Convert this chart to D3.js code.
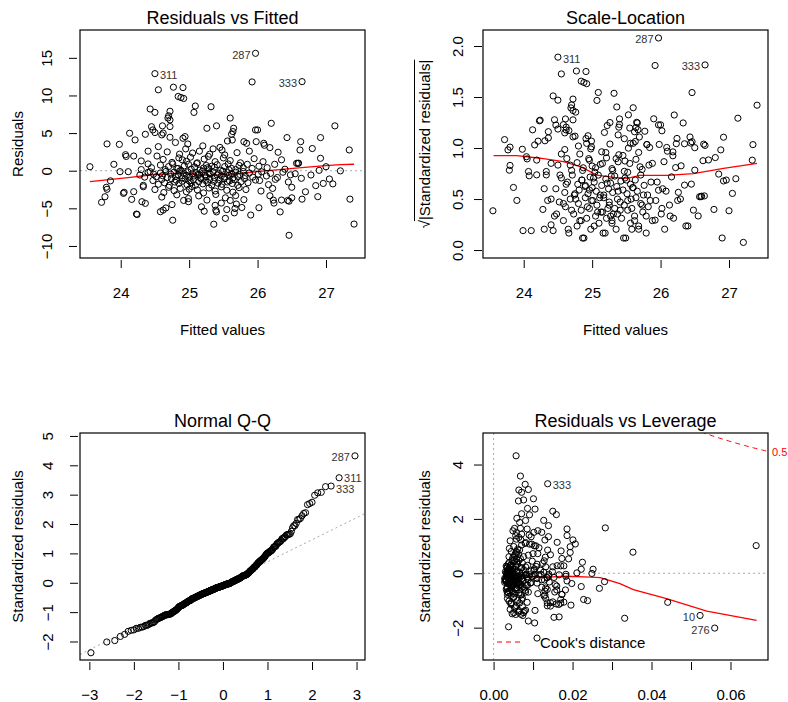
<!DOCTYPE html>
<html>
<head>
<meta charset="utf-8">
<script src="https://cdn.jsdelivr.net/npm/d3@7"></script>
<style>
  body { margin: 0; background: #fff; }
  text { font-family: "Liberation Sans", Arial, Helvetica, sans-serif; }
</style>
</head>
<body>
<div id="chart"></div>
<script>
// ---- model output (n = 330 cases) ----
// first five entries are the labelled cases
const caseIds = ["287", "311", "333", "276", "10"];

const fitted = [
  25.97, 24.50, 26.65, 27.41, 26.33,
  25.92, 24.77, 24.91, 24.55, 24.84, 24.88, 24.92, 25.09, 25.32, 24.43,
  24.50, 24.72, 25.07, 24.70, 24.69, 24.72, 25.60, 26.20,
  24.61, 24.72, 24.45, 24.47, 24.50, 25.26, 25.40, 25.65, 25.64, 25.97, 26.00, 27.13, 24.62,
  24.60, 24.36, 24.13, 24.21, 24.91, 24.94, 25.62, 26.43, 26.92, 24.72, 25.63,
  23.80, 25.84, 26.18, 26.10, 26.63, 24.98, 25.56, 25.80, 25.98, 26.09, 24.55, 25.20, 25.45, 24.80, 23.98,
  27.34, 26.62, 24.07, 26.80, 24.95, 25.15, 25.30, 25.48, 25.70, 25.52, 24.68, 24.86, 25.05, 25.88, 26.30, 24.40, 25.35,
  26.92, 24.53, 24.19, 24.08, 24.30, 24.62, 24.75, 24.85, 24.96, 25.02, 25.12, 25.22, 25.38, 25.50, 25.60, 25.75, 25.95, 26.08, 26.35, 26.60, 25.28, 24.90,
  23.55, 27.00, 23.90, 25.92, 26.57, 26.59, 24.30, 24.40, 26.90,
  24.45, 24.58, 24.65, 24.70, 24.76, 24.82, 24.88, 24.93, 24.99, 25.03,
  25.08, 25.11, 25.16, 25.21, 25.25, 25.29, 25.33, 25.37, 25.41, 25.46,
  25.52, 25.57, 25.62, 25.68, 25.73, 25.79, 25.85, 26.02, 26.14, 26.25,
  26.40, 25.27, 25.58, 24.84,
  23.99, 24.11, 24.40, 24.43, 24.28, 27.21, 26.78, 24.35, 24.48, 25.15,
  24.52, 24.58, 24.61, 24.66, 24.68, 24.73, 24.78, 24.80, 24.84, 24.86,
  24.90, 24.92, 24.96, 24.98, 25.01, 25.05, 25.07, 25.10, 25.13, 25.17,
  25.19, 25.23, 25.25, 25.29, 25.31, 25.35, 25.37, 25.41, 25.43, 25.47,
  25.49, 25.52, 25.56, 25.58, 25.62, 25.64, 25.68, 25.71, 25.74, 25.79,
  25.82, 25.88, 25.93, 26.01, 26.06, 26.13, 26.19, 26.29, 26.37, 26.48,
  26.55,
  26.64, 25.97, 26.96, 27.05, 26.85, 27.10, 23.85, 24.33,
  24.47, 24.55, 24.60, 24.64, 24.71, 24.74, 24.79, 24.81, 24.85, 24.90,
  24.94, 24.97, 25.00, 25.03, 25.06, 25.09, 25.14, 25.17, 25.20, 25.24,
  25.27, 25.30, 25.33, 25.36, 25.42, 25.45, 25.48, 25.51, 25.56, 25.59,
  25.63, 25.66, 25.71, 25.76, 25.81, 25.86, 26.03, 26.16, 26.26, 26.45,
  24.05, 24.19, 24.33, 23.79, 23.80, 26.70, 26.50,
  24.50, 24.63, 24.70, 24.78, 24.87, 24.96, 25.04, 25.12, 25.21, 25.29,
  25.38, 25.47, 25.55, 25.64, 25.73, 25.83, 26.05, 26.22, 25.00,
  24.04, 23.77, 24.16, 26.23, 26.44, 26.65, 27.35, 26.18, 26.35, 26.88, 26.50,
  24.60, 24.82, 24.99, 25.14, 25.26, 25.39, 25.53, 25.68, 25.80, 24.92, 25.60,
  23.72, 24.31, 24.36, 24.99, 25.38, 26.02, 25.77, 25.69, 26.46, 24.66, 24.75, 25.18, 25.47, 26.24,
  24.24, 24.23, 25.22, 25.39, 25.40, 24.62, 25.55, 25.67, 24.58, 25.90, 25.66,
  26.46, 25.36, 24.76, 25.53
];

const resid = [
  15.6, 12.9, 11.84, -7.09, -5.47,
  11.80, 11.1, 11.05, 10.75, 9.87, 9.73, 9.6, 8.6, 8.5, 8.2,
  7.75, 7.9, 7.75, 7.3, 7.0, 6.75, 7.0, 6.3,
  5.96, 5.87, 5.85, 5.42, 5.07, 5.64, 5.96, 5.64, 5.2, 5.42, 5.42, 5.96, 5.0,
  4.76, 4.84, 4.98, 4.09, 4.31, 4.53, 4.84, 4.4, 4.4, 4.44, 4.08,
  3.56, 3.64, 3.07, 3.38, 3.86, 3.55, 3.95, 3.86, 3.86, 3.64, 3.2, 3.3, 3.1, 3.75, 3.5,
  2.76, 2.75, 2.13, 2.95, 2.9, 2.6, 2.2, 2.75, 2.4, 2.1, 2.5, 2.2, 2.35, 2.6, 2.45, 2.6, 2.9,
  1.65, 1.95, 1.95, 1.9, 1.3, 1.5, 1.1, 1.7, 1.25, 1.8, 1.05, 1.55, 1.2, 1.7, 1.35, 1.05, 1.6, 1.2, 1.45, 1.0, 1.9, 1.45,
  0.53, 0.53, 0.85, 0.31, 0.98, 0.98, 0.15, 0.9, 0.05,
  0.4, 0.75, 0.15, 0.55, 0.9, 0.3, 0.05, 0.65, 0.85, 0.2,
  0.5, 0.95, 0.1, 0.35, 0.7, 0.25, 0.6, 0.45, 0.8, 0.05,
  0.55, 0.9, 0.3, 0.15, 0.7, 0.4, 0.85, 0.6, 0.4, 0.85,
  0.2, 0.4, 0.15, 0.3,
  -0.13, -0.13, -0.22, -0.13, -0.57, -0.02, -0.57, -0.85, -0.45, -0.5,
  -0.8, -0.3, -0.65, -0.1, -0.9, -0.45, -0.2, -0.75, -0.55, -0.05,
  -0.95, -0.35, -0.6, -0.15, -0.85, -0.4, -0.7, -0.25, -0.5, -0.95,
  -0.1, -0.6, -0.8, -0.3, -0.45, -0.15, -0.9, -0.55, -0.35, -0.7,
  -0.05, -0.85, -0.25, -0.6, -0.4, -0.95, -0.2, -0.75, -0.5, -0.1,
  -0.65, -0.3, -0.85, -0.45, -0.15, -0.7, -0.35, -0.9, -0.2, -0.55,
  -0.4,
  -1.01, -1.24, -1.69, -1.1, -1.98, -1.75, -1.35, -1.95,
  -1.3, -1.8, -1.15, -1.6, -1.95, -1.05, -1.5, -1.25, -1.7, -1.4,
  -1.1, -1.85, -1.35, -1.6, -1.2, -1.95, -1.45, -1.05, -1.75, -1.3,
  -1.55, -1.15, -1.9, -1.4, -1.65, -1.25, -1.8, -1.1, -1.5, -1.35,
  -1.7, -1.2, -1.95, -1.45, -1.05, -1.6, -1.3, -1.85, -1.15, -1.5,
  -2.87, -2.79, -2.13, -2.2, -2.47, -2.8, -2.2,
  -2.5, -2.9, -2.2, -2.65, -2.35, -2.8, -2.1, -2.55, -2.95, -2.3,
  -2.7, -2.15, -2.6, -2.85, -2.25, -2.5, -2.7, -2.35, -2.45,
  -3.01, -3.46, -3.81, -3.91, -3.95, -3.78, -3.78, -3.33, -3.9, -3.45, -3.6,
  -3.5, -3.2, -3.7, -3.35, -3.9, -3.15, -3.6, -3.3, -3.85, -3.95, -3.95,
  -4.2, -4.12, -4.34, -4.12, -4.6, -4.92, -4.89, -4.43, -4.05, -4.95, -4.5, -4.8, -4.3, -4.3,
  -5.82, -5.76, -5.38, -5.24, -5.47, -5.23, -5.16, -5.02, -5.45, -5.89, -5.6,
  -8.58, -7.11, -6.58, -6.33
];

const leverage = [
  .0057, .0068, .0137, .0560, .0523,
  .0080, .0088, .0064, .0071, .0101, .0076, .0063, .0086, .0105, .0150,
  .0159, .0071, .0091, .0059, .0081, .0066, .0127, .0139,
  .0053, .0085, .0186, .0058, .0090, .0049, .0068, .0112, .0071, .0102, .0122, .0283, .0056,
  .0064, .0139, .0186, .0161, .0042, .0058, .0095, .0201, .0130, .0069, .0081,
  .0665, .0103, .0137, .0115, .0207, .0051, .0080, .0091, .0097, .0107, .0061, .0040, .0066, .0071, .0194,
  .0353, .0194, .0131, .0171, .0045, .0055, .0076, .0059, .0088, .0049, .0063, .0039, .0053, .0100, .0144, .0112, .0058,
  .0128, .0068, .0173, .0190, .0124, .0059, .0044, .0051, .0037, .0047, .0042, .0053, .0061, .0064, .0073, .0086, .0098, .0110, .0225, .0161, .0058, .0040,
  .0222, .0252, .0150, .0095, .0170, .0178, .0127, .0108, .0211,
  .0102, .0069, .0058, .0049, .0044, .0035, .0032, .0039, .0034, .0030,
  .0037, .0032, .0035, .0039, .0034, .0042, .0040, .0045, .0044, .0047,
  .0053, .0056, .0059, .0066, .0071, .0076, .0081, .0103, .0119, .0132,
  .0149, .0039, .0058, .0045,
  .0140, .0183, .0115, .0105, .0136, .0249, .0135, .0122, .0085, .0035,
  .0071, .0063, .0086, .0049, .0058, .0044, .0081, .0039, .0053, .0034,
  .0042, .0032, .0063, .0035, .0030, .0047, .0028, .0039, .0058, .0032,
  .0035, .0044, .0030, .0071, .0040, .0034, .0053, .0045, .0039, .0061,
  .0049, .0042, .0080, .0055, .0064, .0047, .0091, .0059, .0068, .0083,
  .0073, .0103, .0088, .0098, .0120, .0110, .0139, .0129, .0166, .0153,
  .0183,
  .0186, .0095, .0160, .0281, .0268, .0222, .0198, .0132,
  .0093, .0074, .0063, .0083, .0055, .0047, .0066, .0039, .0044, .0058,
  .0032, .0035, .0042, .0049, .0028, .0034, .0039, .0030, .0045, .0035,
  .0051, .0040, .0059, .0039, .0049, .0064, .0044, .0055, .0069, .0051,
  .0063, .0058, .0078, .0068, .0074, .0086, .0110, .0122, .0141, .0156,
  .0130, .0173, .0136, .0160, .0155, .0173, .0182,
  .0081, .0068, .0058, .0049, .0040, .0035, .0032, .0037, .0044, .0047,
  .0053, .0056, .0064, .0071, .0080, .0088, .0112, .0130, .0034,
  .0128, .0170, .0178, .0136, .0170, .0150, .0441, .0132, .0144, .0228, .0238,
  .0071, .0051, .0039, .0035, .0045, .0051, .0061, .0073, .0085, .0044, .0066,
  .0196, .0165, .0144, .0044, .0053, .0105, .0081, .0073, .0159, .0064, .0056, .0042, .0058, .0136,
  .0153, .0166, .0047, .0051, .0056, .0076, .0063, .0078, .0069, .0332, .0074,
  .0110, .0038, .0104, .0088
];

const sigma = 3.62;   // residual standard error
const nCoef = 3;      // number of coefficients (for Cook's contours)

// red smoother lines
const rvfSmoothX = [23.55, 23.90, 24.14, 24.43, 24.77, 24.97, 25.11, 25.36, 25.46, 25.75, 25.94, 26.24, 26.60, 26.95, 27.21, 27.41];
const rvfSmoothY = [-1.46, -1.12, -0.88, -0.57, -0.35, -0.35, -0.53, -0.66, -0.48, -0.35, -0.17, 0.09, 0.38, 0.64, 0.80, 0.86];
const slSmoothX = [23.56, 23.90, 24.24, 24.58, 24.83, 25.07, 25.31, 25.51, 25.70, 26.09, 26.48, 26.92, 27.41];
const slSmoothY = [0.925, 0.925, 0.90, 0.866, 0.817, 0.735, 0.712, 0.703, 0.732, 0.732, 0.75, 0.80, 0.85];
const rvlSmoothH = [0.003, 0.0059, 0.0093, 0.0135, 0.0186, 0.0245, 0.027, 0.032, 0.0354, 0.0438, 0.054, 0.0666];
const rvlSmoothY = [-0.32, -0.04, -0.11, -0.14, -0.11, -0.14, -0.16, -0.38, -0.6, -0.93, -1.39, -1.73];

// tick values
const fittedTicks = [24, 25, 26, 27];
const rvfYTicks = [-10, -5, 0, 5, 10, 15];
const slYTicks = [0, 0.5, 1, 1.5, 2];
const qqXTicks = [-3, -2, -1, 0, 1, 2, 3];
const qqYTicks = [-2, -1, 0, 1, 2, 3, 4, 5];
const levTicks = [0, 0.01, 0.02, 0.03, 0.04, 0.05, 0.06];
const rvlYTicks = [-2, 0, 2, 4];

// ---- derived quantities ----
const n = fitted.length;
const stdRes = resid.map((r, i) => r / (sigma * Math.sqrt(1 - leverage[i])));
const sqrtAbs = stdRes.map(s => Math.sqrt(Math.abs(s)));
const cooks = stdRes.map((s, i) => s * s * leverage[i] / (nCoef * (1 - leverage[i])));
const caseName = i => (i < caseIds.length ? caseIds[i] : String(i + 1));

// inverse normal cdf (Acklam)
function qnorm(p) {
  const a = [-3.969683028665376e+01, 2.209460984245205e+02, -2.759285104469687e+02, 1.383577518672690e+02, -3.066479806614716e+01, 2.506628277459239e+00];
  const b = [-5.447609879822406e+01, 1.615858368580409e+02, -1.556989798598866e+02, 6.680131188771972e+01, -1.328068155288572e+01];
  const c = [-7.784894002430293e-03, -3.223964580411365e-01, -2.400758277161838e+00, -2.549732539343734e+00, 4.374664141464968e+00, 2.938163982698783e+00];
  const d = [7.784695709041462e-03, 3.224671290700398e-01, 2.445134137142996e+00, 3.754408661907416e+00];
  const pl = 0.02425;
  if (p < pl) {
    const q = Math.sqrt(-2 * Math.log(p));
    return (((((c[0] * q + c[1]) * q + c[2]) * q + c[3]) * q + c[4]) * q + c[5]) / ((((d[0] * q + d[1]) * q + d[2]) * q + d[3]) * q + 1);
  }
  if (p > 1 - pl) {
    const q = Math.sqrt(-2 * Math.log(1 - p));
    return -(((((c[0] * q + c[1]) * q + c[2]) * q + c[3]) * q + c[4]) * q + c[5]) / ((((d[0] * q + d[1]) * q + d[2]) * q + d[3]) * q + 1);
  }
  const q = p - 0.5, r = q * q;
  return (((((a[0] * r + a[1]) * r + a[2]) * r + a[3]) * r + a[4]) * r + a[5]) * q / (((((b[0] * r + b[1]) * r + b[2]) * r + b[3]) * r + b[4]) * r + 1);
}

// ---- drawing ----
const svg = d3.select("#chart").append("svg")
  .attr("width", 788).attr("height", 702);

const top3 = crit => d3.range(n).sort((a, b) => crit[b] - crit[a]).slice(0, 3);

function panel(cfg) {
  const b = cfg.box;
  const x = d3.scaleLinear().domain(cfg.xDomain).range([b.x0, b.x1]);
  const y = d3.scaleLinear().domain(cfg.yDomain).range([b.y1, b.y0]);
  const g = svg.append("g");

  const clipId = "clip-" + cfg.id;
  g.append("clipPath").attr("id", clipId).append("rect")
    .attr("x", b.x0).attr("y", b.y0).attr("width", b.x1 - b.x0).attr("height", b.y1 - b.y0);

  // title
  g.append("text")
    .attr("x", (b.x0 + b.x1) / 2).attr("y", b.y0 - 6)
    .attr("text-anchor", "middle").attr("font-size", 18)
    .text(cfg.title);

  // x axis
  const xa = g.append("g")
    .attr("transform", `translate(0,${b.y1 + 2})`)
    .call(d3.axisBottom(x).tickValues(cfg.xTicks).tickSize(8).tickSizeOuter(0).tickFormat(cfg.xFormat || d3.format("d")));
  xa.select(".domain").remove();
  xa.attr("font-family", null).attr("font-size", 15).style("color", "#000");
  xa.selectAll(".tick text").attr("y", 32).attr("dy", null).attr("dominant-baseline", "central");

  // y axis, labels parallel to the axis
  const ya = g.append("g")
    .attr("transform", `translate(${b.x0 - cfg.yGap},0)`)
    .call(d3.axisLeft(y).tickValues(cfg.yTicks).tickSize(8).tickSizeOuter(0).tickFormat(cfg.yFormat || d3.format("d")));
  ya.select(".domain").remove();
  ya.attr("font-family", null).attr("font-size", 15).style("color", "#000");
  ya.selectAll(".tick text")
    .attr("x", 0).attr("dy", null)
    .attr("transform", `translate(${-cfg.yLabOff},0) rotate(-90)`)
    .attr("text-anchor", "middle").attr("dominant-baseline", "central");

  // axis titles
  if (cfg.xTitle) {
    g.append("text")
      .attr("x", (b.x0 + b.x1) / 2).attr("y", b.y1 + 71)
      .attr("text-anchor", "middle").attr("dominant-baseline", "central")
      .attr("font-size", 15).text(cfg.xTitle);
  }
  const yt = g.append("g").attr("transform", `translate(${cfg.yTitleX},${(b.y0 + b.y1) / 2}) rotate(-90)`);
  const ytx = yt.append("text")
    .attr("text-anchor", "middle").attr("dominant-baseline", "central").attr("font-size", 15);
  if (cfg.sqrtTitle) {
    ytx.append("tspan").text("\u221A");
    ytx.append("tspan").text(cfg.yTitle);
    const full = ytx.node().getComputedTextLength();
    const root = ytx.select("tspan").node().getComputedTextLength();
    yt.append("line")
      .attr("x1", -full / 2 + root - 1).attr("x2", full / 2)
      .attr("y1", -9.5).attr("y2", -9.5)
      .attr("stroke", "#000").attr("stroke-width", 1);
  } else {
    ytx.text(cfg.yTitle);
  }

  const plot = g.append("g").attr("clip-path", `url(#${clipId})`);
  return { x, y, g, plot, b };
}

function dotted(p, x1, y1, x2, y2) {
  p.plot.append("line")
    .attr("x1", x1).attr("y1", y1).attr("x2", x2).attr("y2", y2)
    .attr("stroke", "#a8a8a8").attr("stroke-width", 1).attr("stroke-dasharray", "2,3");
}

function points(p, xs, ys) {
  p.g.append("g").selectAll("circle")
    .data(d3.range(xs.length))
    .join("circle")
    .attr("cx", i => p.x(xs[i])).attr("cy", i => p.y(ys[i]))
    .attr("r", 3.1)
    .attr("fill", "none").attr("stroke", "#000").attr("stroke-width", 1);
}

function redLine(p, xs, ys) {
  const line = d3.line().x(i => p.x(xs[i])).y(i => p.y(ys[i]));
  p.plot.append("path")
    .attr("d", line(d3.range(xs.length)))
    .attr("fill", "none").attr("stroke", "#ff0000").attr("stroke-width", 1.3);
}

function labels(p, items) {
  items.forEach(it => {
    const px = p.x(it.x), py = p.y(it.y);
    p.g.append("text")
      .attr("x", it.side === "left" ? px - 5 : px + 5)
      .attr("y", py + 1.5 + (it.dy || 0))
      .attr("text-anchor", it.side === "left" ? "end" : "start")
      .attr("dominant-baseline", "central")
      .attr("font-size", 11).attr("fill", "#333")
      .text(it.name);
  });
}

function frame(p) {
  const b = p.b;
  p.g.append("rect")
    .attr("x", b.x0).attr("y", b.y0).attr("width", b.x1 - b.x0).attr("height", b.y1 - b.y0)
    .attr("fill", "none").attr("stroke", "#000").attr("stroke-width", 1.2);
}

const sideOf = (p, v) => (v > d3.mean(p.x.domain()) ? "left" : "right");

// 1. Residuals vs Fitted
const p1 = panel({
  id: "rvf", title: "Residuals vs Fitted",
  box: { x0: 80, x1: 365, y0: 30, y1: 258 },
  xDomain: [23.405, 27.57], yDomain: [-11.6, 18.7],
  xTicks: fittedTicks, yTicks: rvfYTicks,
  yGap: 3, yLabOff: 31, yTitleX: 17,
  xTitle: "Fitted values", yTitle: "Residuals"
});
dotted(p1, 80, p1.y(0), 365, p1.y(0));
points(p1, fitted, resid);
redLine(p1, rvfSmoothX, rvfSmoothY);
labels(p1, top3(resid.map(Math.abs)).map(i => ({ x: fitted[i], y: resid[i], name: caseName(i), side: sideOf(p1, fitted[i]) })));
frame(p1);

// 2. Scale-Location
const p2 = panel({
  id: "sl", title: "Scale-Location",
  box: { x0: 483, x1: 768, y0: 30, y1: 258 },
  xDomain: [23.405, 27.57], yDomain: [-0.078, 2.157],
  xTicks: fittedTicks, yTicks: slYTicks, yFormat: d3.format(".1f"),
  yGap: 1, yLabOff: 25, yTitleX: 424,
  xTitle: "Fitted values", yTitle: "|Standardized residuals|", sqrtTitle: true
});
points(p2, fitted, sqrtAbs);
redLine(p2, slSmoothX, slSmoothY);
labels(p2, top3(sqrtAbs).map(i => ({ x: fitted[i], y: sqrtAbs[i], name: caseName(i), side: sideOf(p2, fitted[i]) })));
frame(p2);

// 3. Normal Q-Q
const order = d3.range(n).sort((a, b) => stdRes[a] - stdRes[b]);
const qqY = order.map(i => stdRes[i]);
const qqX = order.map((_, k) => qnorm((k + 1 - 0.5) / n));
const p3 = panel({
  id: "qq", title: "Normal Q-Q",
  box: { x0: 80, x1: 365, y0: 433, y1: 660 },
  xDomain: [-3.21, 3.19], yDomain: [-2.63, 5.10],
  xTicks: qqXTicks, yTicks: qqYTicks,
  yGap: 2, yLabOff: 31, yTitleX: 17,
  yTitle: "Standardized residuals"
});
{
  const y1 = d3.quantile(qqY, 0.25), y3 = d3.quantile(qqY, 0.75);
  const x1 = qnorm(0.25), x3 = qnorm(0.75);
  const slope = (y3 - y1) / (x3 - x1), icpt = y1 - slope * x1;
  const [xa, xb] = p3.x.domain();
  dotted(p3, p3.x(xa), p3.y(icpt + slope * xa), p3.x(xb), p3.y(icpt + slope * xb));
}
points(p3, qqX, qqY);
const qqSides = ["left", "right", "right"];
const qqShift = [0, -1, 1];
labels(p3, top3(stdRes.map(Math.abs)).map((i, k) => {
  const pos = order.indexOf(i);
  return { x: qqX[pos], y: qqY[pos], name: caseName(i), side: qqSides[k], dy: qqShift[k] };
}));
frame(p3);

// 4. Residuals vs Leverage
const p4 = panel({
  id: "rvl", title: "Residuals vs Leverage",
  box: { x0: 483, x1: 768, y0: 433, y1: 660 },
  xDomain: [-0.00268, 0.0695], yDomain: [-3.19, 5.16],
  xTicks: levTicks, yTicks: rvlYTicks,
  xFormat: d => (Math.round(d * 100) % 2 === 0 ? d3.format(".2f")(d) : ""),
  yGap: 1, yLabOff: 25, yTitleX: 424,
  yTitle: "Standardized residuals"
});
dotted(p4, 483, p4.y(0), 768, p4.y(0));
dotted(p4, p4.x(0), 433, p4.x(0), 660);
points(p4, leverage, stdRes);
redLine(p4, rvlSmoothH, rvlSmoothY);
{
  // Cook's distance contour at 0.5
  const hMax = p4.x.domain()[1];
  const hs = d3.range(0.001, hMax, (hMax - 0.001) / 150).concat([hMax]);
  const cook = h => Math.sqrt(0.5 * nCoef * (1 - h) / h);
  const ln = d3.line().x(h => p4.x(h));
  p4.plot.append("path").attr("d", ln.y(h => p4.y(cook(h)))(hs))
    .attr("fill", "none").attr("stroke", "#ff0000").attr("stroke-dasharray", "5,4");
  p4.plot.append("path").attr("d", ln.y(h => p4.y(-cook(h)))(hs))
    .attr("fill", "none").attr("stroke", "#ff0000").attr("stroke-dasharray", "5,4");
  p4.g.append("text")
    .attr("x", 772).attr("y", p4.y(cook(hMax)) + 1)
    .attr("dominant-baseline", "central").attr("font-size", 11).attr("fill", "#ff0000")
    .text("0.5");
}
labels(p4, top3(cooks).map(i => ({ x: leverage[i], y: stdRes[i], name: caseName(i), side: sideOf(p4, leverage[i]) })));
// legend
p4.g.append("line").attr("x1", 497).attr("x2", 522).attr("y1", 642).attr("y2", 642)
  .attr("stroke", "#ff0000").attr("stroke-dasharray", "5,4");
p4.g.append("text").attr("x", 540).attr("y", 642)
  .attr("dominant-baseline", "central").attr("font-size", 15)
  .text("Cook's distance");
frame(p4);
</script>
</body>
</html>
